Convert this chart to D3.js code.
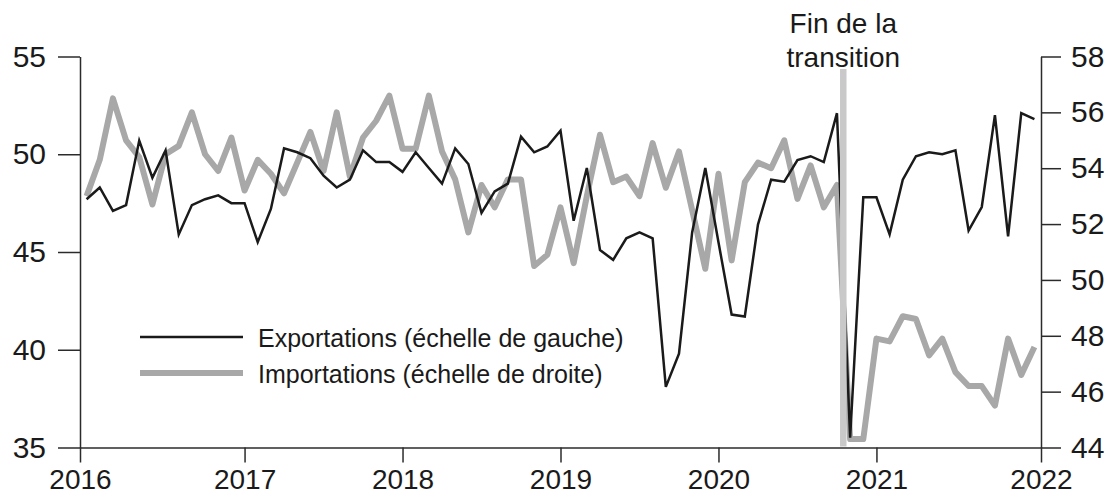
<!DOCTYPE html>
<html>
<head>
<meta charset="utf-8">
<title></title>
<style type="text/css">
body {
  margin: 0;
  background: #fff;
}

text {
  font-family: "Liberation Sans", Arial, sans-serif;
  fill: #1a1a1a;
}

.axis path, .axis line {
  stroke: #2b2b2b;
  stroke-width: 1.5px;
}
</style>
</head>
<body>
<svg width="1117" height="498"></svg>

<script src="https://d3js.org/d3.v7.min.js"></script>
<script type="text/javascript">
// monthly, Jan 2016 -> Jan 2022
var months = d3.timeMonth.range(new Date(2016, 0, 1), new Date(2022, 1, 1))

var exportations = [47.7, 48.3, 47.1, 47.4, 50.7, 48.8, 50.2, 45.9, 47.4, 47.7, 47.9, 47.5,
  47.5, 45.5, 47.2, 50.3, 50.1, 49.8, 48.9, 48.3, 48.7, 50.2, 49.6, 49.6,
  49.1, 50.1, 49.3, 48.5, 50.3, 49.5, 47.0, 48.1, 48.5, 50.9, 50.1, 50.4,
  51.2, 46.6, 49.3, 45.1, 44.6, 45.7, 46.0, 45.7, 38.1, 39.8, 46.0, 49.3,
  45.5, 41.8, 41.7, 46.4, 48.7, 48.6, 49.7, 49.9, 49.6, 52.1, 35.5, 47.8,
  47.8, 45.9, 48.7, 49.9, 50.1, 50.0, 50.2, 46.1, 47.3, 52.0, 45.8, 52.1,
  51.8]

var importations = [53.0, 54.3, 56.5, 55.0, 54.4, 52.7, 54.5, 54.8, 56.0, 54.5, 53.9, 55.1,
  53.2, 54.3, 53.8, 53.1, 54.2, 55.3, 53.9, 56.0, 53.7, 55.1, 55.7, 56.6,
  54.7, 54.7, 56.6, 54.6, 53.6, 51.7, 53.4, 52.6, 53.6, 53.6, 50.5, 50.9,
  52.6, 50.6, 53.0, 55.2, 53.5, 53.7, 53.0, 54.9, 53.3, 54.6, 52.5, 50.4,
  53.8, 50.7, 53.5, 54.2, 54.0, 55.0, 52.9, 54.1, 52.6, 53.4, 44.3, 44.3,
  47.9, 47.8, 48.7, 48.6, 47.3, 47.9, 46.7, 46.2, 46.2, 45.5, 47.9, 46.6,
  47.6]

var years = [2016, 2017, 2018, 2019, 2020, 2021, 2022]
var leftTicks = [35, 40, 45, 50, 55]
var rightTicks = [44, 46, 48, 50, 52, 54, 56, 58]
var transitionAt = 2020.79
var transitionLabel = ["Fin de la", "transition"]
var legendLabels = ["Exportations (échelle de gauche)", "Importations (échelle de droite)"]

var svg = d3.select("svg")
var plotLeft = 80, plotRight = 1041, plotTop = 56.5, plotBottom = 447.5

var xBand = d3.scaleBand().domain(months).range([plotLeft, plotRight]).padding(0)
function xm(i) { return xBand(months[i]) + xBand.bandwidth() / 2 }

// year ticks sit on the January points, outer ones on the frame
var xYear = d3.scaleLinear()
    .domain([2016, 2017, 2021, 2022])
    .range([plotLeft, xm(12), xm(60), plotRight])
var yL = d3.scaleLinear().domain([35, 55]).range([plotBottom, plotTop])
var yR = d3.scaleLinear().domain([44, 58]).range([plotBottom, plotTop])

// axes
svg.append("g")
    .attr("class", "axis")
    .attr("transform", "translate(" + plotLeft + ",0)")
    .call(d3.axisLeft(yL).tickValues(leftTicks).tickSize(22).tickSizeOuter(0).tickPadding(12))
    .selectAll("text").style("font-size", "30px")

svg.append("g")
    .attr("class", "axis")
    .attr("transform", "translate(" + plotRight + ",0)")
    .call(d3.axisRight(yR).tickValues(rightTicks).tickSize(20).tickSizeOuter(0).tickPadding(10))
    .selectAll("text").style("font-size", "30px")

svg.append("g")
    .attr("class", "axis")
    .attr("transform", "translate(0," + plotBottom + ")")
    .call(d3.axisBottom(xYear).tickValues(years).tickFormat(d3.format("d")).tickSize(15).tickSizeOuter(0).tickPadding(7))
    .selectAll("text").style("font-size", "28px")

svg.selectAll(".axis text")
    .attr("font-family", "Liberation Sans, Arial, sans-serif")
    .attr("fill", "#1a1a1a")

// lines
var lineL = d3.line().x(function(d, i) { return xm(i) }).y(function(d) { return yL(d) })
var lineR = d3.line().x(function(d, i) { return xm(i) }).y(function(d) { return yR(d) })

svg.append("path")
    .datum(importations)
    .attr("d", lineR)
    .attr("fill", "none")
    .attr("stroke", "#a8a8a8")
    .attr("stroke-width", 6)
    .attr("stroke-linejoin", "round")

svg.append("path")
    .datum(exportations)
    .attr("d", lineL)
    .attr("fill", "none")
    .attr("stroke", "#1a1a1a")
    .attr("stroke-width", 2.5)

// end of transition marker
var tx = xYear(transitionAt)
svg.append("line")
    .attr("x1", tx).attr("x2", tx)
    .attr("y1", 69).attr("y2", plotBottom - 1)
    .attr("stroke", "#c9c9c9")
    .attr("stroke-width", 6.5)

svg.append("g").selectAll("text")
    .data(transitionLabel)
    .enter().append("text")
    .attr("x", tx)
    .attr("y", function(d, i) { return 33 + i * 34 })
    .attr("text-anchor", "middle")
    .style("font-size", "28px")
    .text(function(d) { return d })

// legend
var legend = svg.append("g")
legend.append("line")
    .attr("x1", 140).attr("x2", 243).attr("y1", 337).attr("y2", 337)
    .attr("stroke", "#1a1a1a").attr("stroke-width", 2.5)
legend.append("line")
    .attr("x1", 140).attr("x2", 243).attr("y1", 373).attr("y2", 373)
    .attr("stroke", "#a8a8a8").attr("stroke-width", 6)
legend.selectAll("text")
    .data(legendLabels)
    .enter().append("text")
    .attr("x", 258)
    .attr("y", function(d, i) { return 347 + i * 36 })
    .style("font-size", "25px")
    .text(function(d) { return d })
</script>
</body>
</html>
